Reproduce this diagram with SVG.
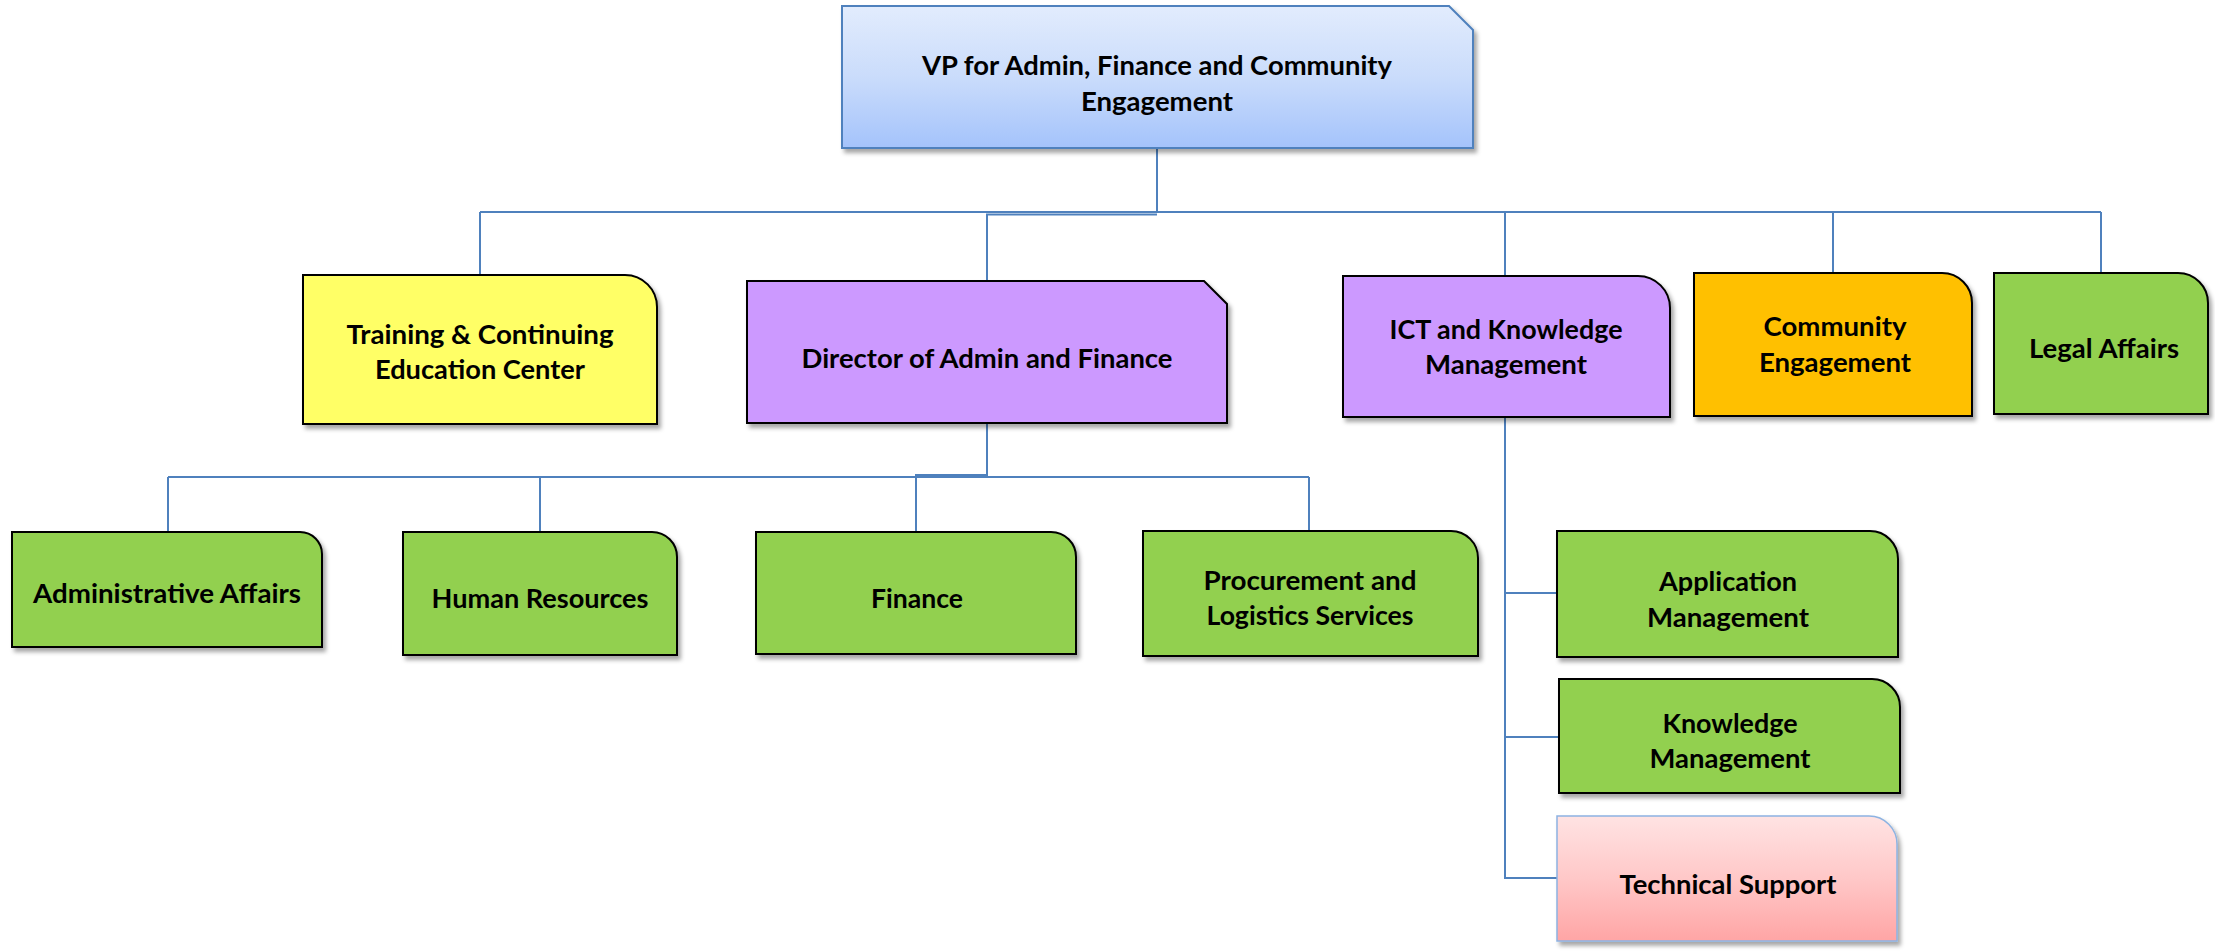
<svg xmlns="http://www.w3.org/2000/svg" width="2215" height="951" viewBox="0 0 2215 951">
<style>
.t{font-family:Lato,"Liberation Sans",sans-serif;font-weight:bold;font-size:26.5px;fill:#000;text-anchor:middle}
.box{stroke:#000;stroke-width:2;filter:url(#sh)}
.c{fill:none;stroke:#4F81BD;stroke-width:2}
</style>
<defs>
<filter id="sh" x="-10%" y="-10%" width="130%" height="140%">
<feDropShadow dx="3" dy="4" stdDeviation="2" flood-color="#000" flood-opacity="0.35"/>
</filter>
<linearGradient id="gVP" x1="0" y1="0" x2="0" y2="1">
<stop offset="0" stop-color="#E2ECFD"/><stop offset="0.5" stop-color="#CADCFB"/><stop offset="1" stop-color="#A4C3FB"/>
</linearGradient>
<linearGradient id="gTS" x1="0" y1="0" x2="0" y2="1">
<stop offset="0" stop-color="#FFE3E3"/><stop offset="0.5" stop-color="#FFC8C8"/><stop offset="1" stop-color="#FFA5A5"/>
</linearGradient>
</defs>
<g id="connectors">
<path class="c" d="M1157 148 V212"/>
<path class="c" d="M480 212 H2101"/>
<path class="c" d="M480 212 V275"/>
<path class="c" d="M1157 214.5 H987 V281"/>
<path class="c" d="M1505 212 V276"/>
<path class="c" d="M1833 212 V273"/>
<path class="c" d="M2101 212 V273"/>
<path class="c" d="M987 423 V477"/>
<path class="c" d="M168 477 H1309"/>
<path class="c" d="M987 475 H916 V532"/>
<path class="c" d="M168 477 V532"/>
<path class="c" d="M540 477 V532"/>
<path class="c" d="M1309 477 V531"/>
<path class="c" d="M1505 417 V878 H1557"/>
<path class="c" d="M1505 593 H1557"/>
<path class="c" d="M1505 737 H1559"/>
</g>
<g id="vp">
<path d="M842 6 H1449 L1473 30 V148 H842 Z" fill="url(#gVP)" stroke="#4F81BD" stroke-width="2" filter="url(#sh)"/>
<text class="t" x="1157" y="75" textLength="470" lengthAdjust="spacingAndGlyphs">VP for Admin, Finance and Community</text>
<text class="t" x="1157" y="111" textLength="152" lengthAdjust="spacingAndGlyphs">Engagement</text>
</g>
<g id="training">
<path class="box" d="M303 275 H625 A32 32 0 0 1 657 307 V424 H303 Z" fill="#FFFF66"/>
<text class="t" x="480" y="344" textLength="267" lengthAdjust="spacingAndGlyphs">Training &amp; Continuing</text>
<text class="t" x="480" y="379" textLength="210" lengthAdjust="spacingAndGlyphs">Education Center</text>
</g>
<g id="director">
<path class="box" d="M747 281 H1204 L1227 304 V423 H747 Z" fill="#CC99FF"/>
<text class="t" x="987" y="368" textLength="371" lengthAdjust="spacingAndGlyphs">Director of Admin and Finance</text>
</g>
<g id="ict">
<path class="box" d="M1343 276 H1638 A32 32 0 0 1 1670 308 V417 H1343 Z" fill="#CC99FF"/>
<text class="t" x="1506" y="339" textLength="233" lengthAdjust="spacingAndGlyphs">ICT and Knowledge</text>
<text class="t" x="1506" y="374" textLength="162" lengthAdjust="spacingAndGlyphs">Management</text>
</g>
<g id="community">
<path class="box" d="M1694 273 H1942 A30 30 0 0 1 1972 303 V416 H1694 Z" fill="#FFC000"/>
<text class="t" x="1835" y="336" textLength="143" lengthAdjust="spacingAndGlyphs">Community</text>
<text class="t" x="1835" y="372" textLength="152" lengthAdjust="spacingAndGlyphs">Engagement</text>
</g>
<g id="legal">
<path class="box" d="M1994 273 H2178 A30 30 0 0 1 2208 303 V414 H1994 Z" fill="#92D050"/>
<text class="t" x="2104" y="358" textLength="150" lengthAdjust="spacingAndGlyphs">Legal Affairs</text>
</g>
<g id="admin">
<path class="box" d="M12 532 H300 A22 22 0 0 1 322 554 V647 H12 Z" fill="#92D050"/>
<text class="t" x="167" y="603" textLength="268" lengthAdjust="spacingAndGlyphs">Administrative Affairs</text>
</g>
<g id="hr">
<path class="box" d="M403 532 H652 A25 25 0 0 1 677 557 V655 H403 Z" fill="#92D050"/>
<text class="t" x="540" y="608" textLength="217" lengthAdjust="spacingAndGlyphs">Human Resources</text>
</g>
<g id="finance">
<path class="box" d="M756 532 H1051 A25 25 0 0 1 1076 557 V654 H756 Z" fill="#92D050"/>
<text class="t" x="917" y="608" textLength="92" lengthAdjust="spacingAndGlyphs">Finance</text>
</g>
<g id="procurement">
<path class="box" d="M1143 531 H1451 A27 27 0 0 1 1478 558 V656 H1143 Z" fill="#92D050"/>
<text class="t" x="1310" y="590" textLength="213" lengthAdjust="spacingAndGlyphs">Procurement and</text>
<text class="t" x="1310" y="625" textLength="207" lengthAdjust="spacingAndGlyphs">Logistics Services</text>
</g>
<g id="appmgmt">
<path class="box" d="M1557 531 H1870 A28 28 0 0 1 1898 559 V657 H1557 Z" fill="#92D050"/>
<text class="t" x="1728" y="591" textLength="138" lengthAdjust="spacingAndGlyphs">Application</text>
<text class="t" x="1728" y="627" textLength="162" lengthAdjust="spacingAndGlyphs">Management</text>
</g>
<g id="knowmgmt">
<path class="box" d="M1559 679 H1872 A28 28 0 0 1 1900 707 V793 H1559 Z" fill="#92D050"/>
<text class="t" x="1730" y="733" textLength="135" lengthAdjust="spacingAndGlyphs">Knowledge</text>
<text class="t" x="1730" y="768" textLength="161" lengthAdjust="spacingAndGlyphs">Management</text>
</g>
<g id="techsupport">
<path d="M1557 816 H1869 A28 28 0 0 1 1897 844 V941 H1557 Z" fill="url(#gTS)" stroke="#8DB3E2" stroke-width="1.5" filter="url(#sh)"/>
<text class="t" x="1728" y="894" textLength="217" lengthAdjust="spacingAndGlyphs">Technical Support</text>
</g>
</svg>
